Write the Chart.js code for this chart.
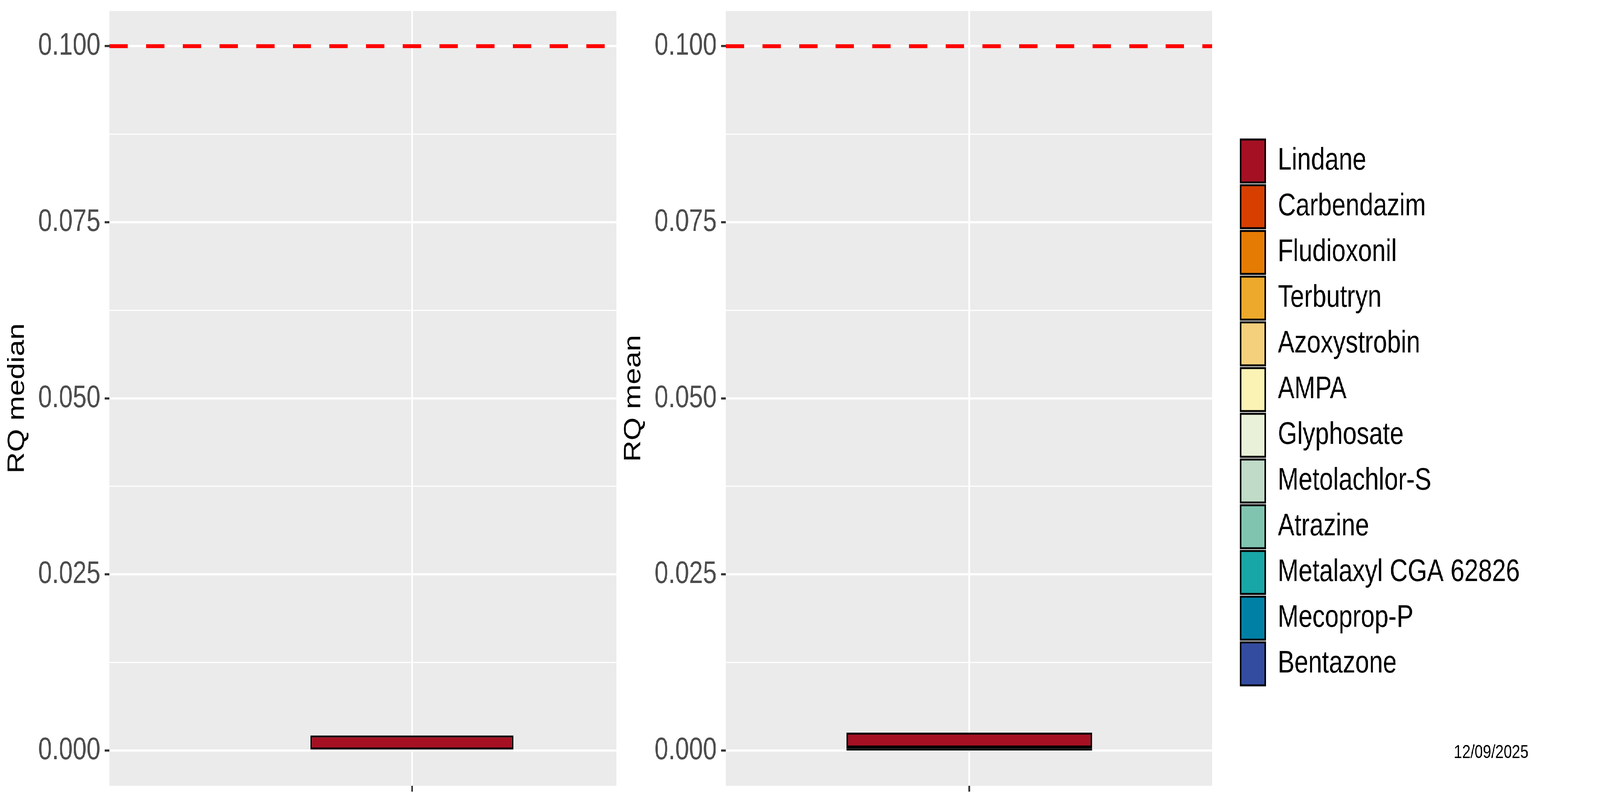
<!DOCTYPE html>
<html>
<head>
<meta charset="utf-8">
<title>RQ median / RQ mean</title>
<script src="https://cdn.jsdelivr.net/npm/chart.js@4.4.1/dist/chart.umd.min.js"></script>
<style>
  html, body { margin: 0; padding: 0; background: #ffffff; width: 100%; height: 100%; overflow: hidden; }
  #figure { position: absolute; left: 0; top: 0; width: 5148px; height: 2032px; transform-origin: 0 0; }
  #figure canvas { position: absolute; top: 0; }
  #rq-median { left: 0; }
  #rq-mean { left: 1983px; }
  #rq-legend { left: 2900px; }
</style>
</head>
<body>
<div id="figure">
  <canvas id="rq-median" width="1983" height="2032"></canvas>
  <canvas id="rq-mean" width="1967" height="2032"></canvas>
  <canvas id="rq-legend" width="2248" height="2032"></canvas>
</div>
<script>
// compounds, top of the stack first (same order as the legend)
var compounds = ['Lindane', 'Carbendazim', 'Fludioxonil', 'Terbutryn', 'Azoxystrobin', 'AMPA',
  'Glyphosate', 'Metolachlor-S', 'Atrazine', 'Metalaxyl CGA 62826', 'Mecoprop-P', 'Bentazone'];
var colors = ['#A51023', '#D73F01', '#E67B03', '#EDA92B', '#F4D07D', '#FAF3B4',
  '#E9F2D8', '#C0DBC8', '#80C4B0', '#19A6A6', '#0180A6', '#344CA0'];

// values
var rqMedian = [0.00214, 0, 0, 0, 0, 0, 0, 0, 0, 0, 0, 0];
var rqMean = [0.0021, 0.00012, 0.00009, 0.00007, 0.00005, 0.00004, 0.00003, 0.00002, 0.00001, 0.00001, 0, 0];

var threshold = 0.1;
var majorTicks = [0, 0.025, 0.05, 0.075, 0.1];
var minorTicks = [0.0125, 0.0375, 0.0625, 0.0875];
var dateLabel = '12/09/2025';

var barPosition = 1;
var barWidth = 0.9;
var medianXRange = [-0.34, 1.905];
var meanXRange = [0.107, 1.89];

var fontFamily = "'Liberation Sans', Arial, sans-serif";

var panelBackground = {
  id: 'panelBackground',
  beforeDraw: function(chart) {
    var area = chart.chartArea;
    var ctx = chart.ctx;
    ctx.save();
    ctx.fillStyle = '#EBEBEB';
    ctx.fillRect(area.left, area.top, area.right - area.left, area.bottom - area.top);
    ctx.restore();
  }
};

function init(){
  // the figure is laid out in image pixels, stretch it over the window
  var sx = window.innerWidth / 5148;
  var sy = window.innerHeight / 2032;
  document.getElementById('figure').style.transform = 'scale(' + sx + ',' + sy + ')';

  createRqChart('rq-median', 'RQ median', rqMedian, medianXRange, 0);
  createRqChart('rq-mean', 'RQ mean', rqMean, meanXRange, 50);
  createLegend();
}

document.addEventListener('DOMContentLoaded', init);

function isMajor(value){
  return majorTicks.indexOf(value) >= 0;
}

function noScalePadding(scale){
  scale.paddingTop = 0;
  scale.paddingBottom = 0;
  scale.paddingLeft = 0;
  scale.paddingRight = 0;
}

function createRqChart(canvasId, axisTitle, values, xRange, rightPad){

  var element = document.getElementById(canvasId).getContext('2d');
  var span = majorTicks[majorTicks.length - 1] - majorTicks[0];

  var datasets = [{
    type: 'line',
    label: 'threshold',
    data: [{x: xRange[0], y: threshold}, {x: xRange[1], y: threshold}],
    borderColor: '#FF0000',
    borderWidth: 10,
    borderDash: [59, 59],
    pointRadius: 0,
    stack: 'threshold'
  }];

  // ggplot puts the first level on top, chart.js stacks from the bottom
  for (var i = compounds.length - 1; i >= 0; i--) {
    datasets.push({
      type: 'bar',
      label: compounds[i],
      data: [{x: barPosition, y: values[i]}],
      backgroundColor: colors[i],
      borderColor: '#000000',
      borderWidth: 5,
      borderSkipped: false,
      inflateAmount: 0,
      stack: 'rq',
      categoryPercentage: 1,
      barPercentage: barWidth / (xRange[1] - xRange[0])
    });
  }

  var chart = new Chart(element, {
    type: 'bar',
    data: { datasets: datasets },
    plugins: [panelBackground],
    options: {
      responsive: false,
      animation: false,
      devicePixelRatio: 1,
      layout: { autoPadding: false, padding: { top: 28, left: 0, right: rightPad, bottom: 0 } },
      plugins: {
        legend: { display: false },
        tooltip: { enabled: false }
      },
      scales: {
        x: {
          type: 'linear',
          min: xRange[0],
          max: xRange[1],
          offset: false,
          stacked: true,
          afterBuildTicks: function(scale) { scale.ticks = [{value: barPosition}]; },
          afterFit: function(scale) { scale.height = 21; noScalePadding(scale); },
          ticks: { callback: function() { return ''; } },
          grid: { offset: false, color: '#FFFFFF', lineWidth: 5.5, tickLength: 15, tickColor: '#333333', tickWidth: 5.5 },
          border: { display: false }
        },
        y: {
          type: 'linear',
          min: majorTicks[0] - 0.05 * span,
          max: majorTicks[majorTicks.length - 1] + 0.05 * span,
          stacked: true,
          afterBuildTicks: function(scale) {
            scale.ticks = majorTicks.concat(minorTicks).sort(function(a, b) { return a - b; })
              .map(function(v) { return {value: v}; });
          },
          afterFit: function(scale) { scale.width = 352; noScalePadding(scale); },
          ticks: {
            autoSkip: false,
            padding: 14,
            color: '#4D4D4D',
            font: { family: fontFamily, size: 80 },
            callback: function(value) { return isMajor(value) ? value.toFixed(3) : ''; }
          },
          grid: {
            color: '#FFFFFF',
            lineWidth: function(ctx) { return isMajor(ctx.tick.value) ? 5.5 : 2.75; },
            tickLength: 15,
            tickWidth: 5.5,
            tickColor: function(ctx) { return isMajor(ctx.tick.value) ? '#333333' : 'rgba(0,0,0,0)'; }
          },
          border: { display: false },
          title: {
            display: true,
            text: axisTitle,
            color: '#000000',
            font: { family: fontFamily, size: 76 },
            padding: { top: 10, bottom: 0 }
          }
        }
      }
    }
  });
}

function createLegend(){
  var element = document.getElementById('rq-legend').getContext('2d');

  var chart = new Chart(element, {
    type: 'bar',
    data: {
      labels: [],
      datasets: compounds.map(function(name, i) {
        return { label: name, data: [], backgroundColor: colors[i], borderColor: '#000000', borderWidth: 5 };
      })
    },
    options: {
      responsive: false,
      animation: false,
      devicePixelRatio: 1,
      layout: { padding: { top: 350, left: 1084.5, right: 230, bottom: 0 } },
      scales: { x: { display: false }, y: { display: false } },
      plugins: {
        tooltip: { enabled: false },
        legend: {
          position: 'left',
          align: 'start',
          maxWidth: 1100,
          labels: {
            boxWidth: 80,
            boxHeight: 110,
            padding: 7,
            color: '#000000',
            font: { family: fontFamily, size: 80 }
          }
        },
        subtitle: {
          display: true,
          text: dateLabel,
          position: 'bottom',
          align: 'end',
          color: '#000000',
          font: { family: fontFamily, size: 48, weight: 'normal' },
          padding: { top: 0, bottom: 76 }
        }
      }
    }
  });
}
</script>
</body>
</html>
